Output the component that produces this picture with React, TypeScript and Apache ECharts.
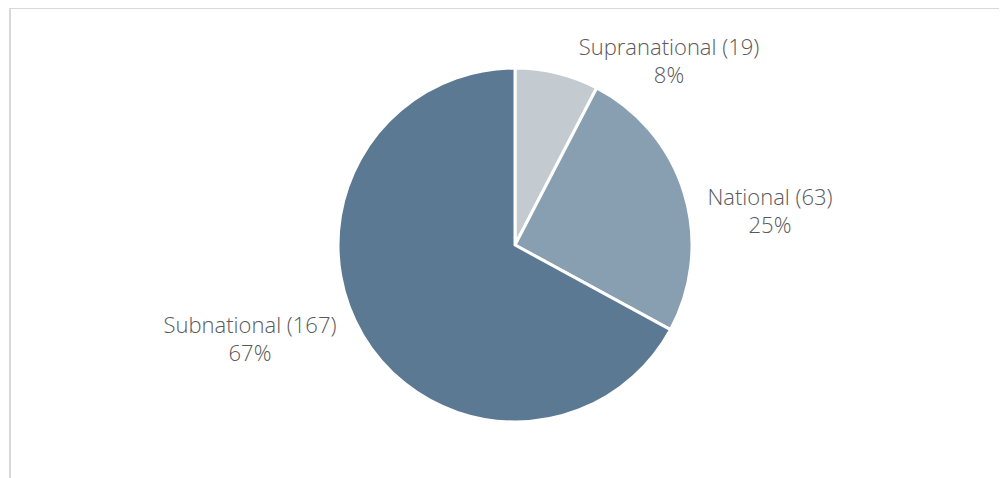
import React, { useEffect, useRef } from "react";
import * as echarts from "echarts";

const categories = ["Supranational", "National", "Subnational"];
const counts = [19, 63, 167];
const colors = ["#c3cbd1", "#889fb1", "#5c7994"];
// label anchor positions (chart pixel coords) - layout only
const labelAnchors: [number, number][] = [
  [658, 51],
  [759, 201],
  [239, 329],
];

export default function App() {
  const ref = useRef<HTMLDivElement>(null);
  useEffect(() => {
    if (!ref.current) return;
    const chart = echarts.init(ref.current, undefined, { renderer: "svg" });
    const total = counts.reduce((a, b) => a + b, 0);
    chart.setOption({
      animation: false,
      series: [
        {
          type: "pie",
          center: [504, 236],
          radius: 177,
          startAngle: 90,
          clockwise: true,
          itemStyle: { borderColor: "#ffffff", borderWidth: 3 },
          label: {
            show: true,
            position: "outside",
            color: "#595959",
            fontFamily: "Open Sans",
            fontWeight: 300,
            fontSize: 22,
            lineHeight: 28,
            align: "center",
            formatter: (p: any) =>
              `${p.name} (${p.value})\n${Math.round((p.value / total) * 100)}%`,
          },
          labelLine: { show: false },
          labelLayout: (p: any) => {
            const a = labelAnchors[p.dataIndex];
            return { x: a[0], y: a[1], align: "center", verticalAlign: "middle" };
          },
          data: categories.map((c, i) => ({
            name: c,
            value: counts[i],
            itemStyle: { color: colors[i] },
          })),
        },
      ],
    });
    return () => chart.dispose();
  }, []);
  return (
    <div
      style={{
        position: "relative",
        left: 1,
        top: -1,
        width: 998,
        height: 471,
        borderTop: "2px solid #d9d9d9",
        borderLeft: "2px solid #d9d9d9",
        boxSizing: "border-box",
        overflow: "hidden",
      }}
    >
      <div ref={ref} style={{ width: 996, height: 469 }} />
    </div>
  );
}
